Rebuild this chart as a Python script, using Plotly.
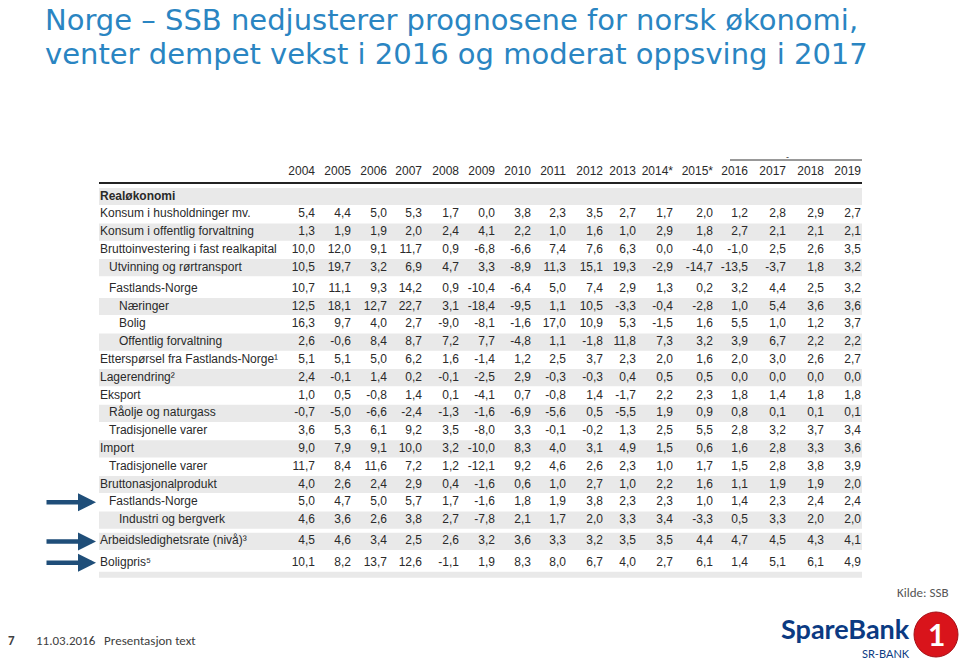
import plotly.graph_objects as go

# ---------------- data ----------------
years = ["2004", "2005", "2006", "2007", "2008", "2009", "2010", "2011",
         "2012", "2013", "2014*", "2015*", "2016", "2017", "2018", "2019"]

labels = ["Realøkonomi", "Konsum i husholdninger mv.", "Konsum i offentlig forvaltning",
          "Bruttoinvestering i fast realkapital", "Utvinning og rørtransport",
          "Fastlands-Norge", "Næringer", "Bolig", "Offentlig forvaltning",
          "Etterspørsel fra Fastlands-Norge¹", "Lagerendring²", "Eksport",
          "Råolje og naturgass", "Tradisjonelle varer", "Import", "Tradisjonelle varer",
          "Bruttonasjonalprodukt", "Fastlands-Norge", "Industri og bergverk",
          "Arbeidsledighetsrate (nivå)³", "Boligpris⁵"]
indent = [0, 0, 0, 0, 1, 1, 2, 2, 2, 0, 0, 0, 1, 1, 0, 1, 0, 1, 2, 0, 0]

konsum_husholdninger = [5.4, 4.4, 5.0, 5.3, 1.7, 0.0, 3.8, 2.3, 3.5, 2.7, 1.7, 2.0, 1.2, 2.8, 2.9, 2.7]
konsum_offentlig = [1.3, 1.9, 1.9, 2.0, 2.4, 4.1, 2.2, 1.0, 1.6, 1.0, 2.9, 1.8, 2.7, 2.1, 2.1, 2.1]
bruttoinvestering = [10.0, 12.0, 9.1, 11.7, 0.9, -6.8, -6.6, 7.4, 7.6, 6.3, 0.0, -4.0, -1.0, 2.5, 2.6, 3.5]
utvinning = [10.5, 19.7, 3.2, 6.9, 4.7, 3.3, -8.9, 11.3, 15.1, 19.3, -2.9, -14.7, -13.5, -3.7, 1.8, 3.2]
fastlands_invest = [10.7, 11.1, 9.3, 14.2, 0.9, -10.4, -6.4, 5.0, 7.4, 2.9, 1.3, 0.2, 3.2, 4.4, 2.5, 3.2]
naeringer = [12.5, 18.1, 12.7, 22.7, 3.1, -18.4, -9.5, 1.1, 10.5, -3.3, -0.4, -2.8, 1.0, 5.4, 3.6, 3.6]
bolig = [16.3, 9.7, 4.0, 2.7, -9.0, -8.1, -1.6, 17.0, 10.9, 5.3, -1.5, 1.6, 5.5, 1.0, 1.2, 3.7]
offentlig_forv = [2.6, -0.6, 8.4, 8.7, 7.2, 7.7, -4.8, 1.1, -1.8, 11.8, 7.3, 3.2, 3.9, 6.7, 2.2, 2.2]
ettersporsel = [5.1, 5.1, 5.0, 6.2, 1.6, -1.4, 1.2, 2.5, 3.7, 2.3, 2.0, 1.6, 2.0, 3.0, 2.6, 2.7]
lagerendring = [2.4, -0.1, 1.4, 0.2, -0.1, -2.5, 2.9, -0.3, -0.3, 0.4, 0.5, 0.5, 0.0, 0.0, 0.0, 0.0]
eksport = [1.0, 0.5, -0.8, 1.4, 0.1, -4.1, 0.7, -0.8, 1.4, -1.7, 2.2, 2.3, 1.8, 1.4, 1.8, 1.8]
raolje = [-0.7, -5.0, -6.6, -2.4, -1.3, -1.6, -6.9, -5.6, 0.5, -5.5, 1.9, 0.9, 0.8, 0.1, 0.1, 0.1]
trad_eksport = [3.6, 5.3, 6.1, 9.2, 3.5, -8.0, 3.3, -0.1, -0.2, 1.3, 2.5, 5.5, 2.8, 3.2, 3.7, 3.4]
importen = [9.0, 7.9, 9.1, 10.0, 3.2, -10.0, 8.3, 4.0, 3.1, 4.9, 1.5, 0.6, 1.6, 2.8, 3.3, 3.6]
trad_import = [11.7, 8.4, 11.6, 7.2, 1.2, -12.1, 9.2, 4.6, 2.6, 2.3, 1.0, 1.7, 1.5, 2.8, 3.8, 3.9]
bnp = [4.0, 2.6, 2.4, 2.9, 0.4, -1.6, 0.6, 1.0, 2.7, 1.0, 2.2, 1.6, 1.1, 1.9, 1.9, 2.0]
bnp_fastlands = [5.0, 4.7, 5.0, 5.7, 1.7, -1.6, 1.8, 1.9, 3.8, 2.3, 2.3, 1.0, 1.4, 2.3, 2.4, 2.4]
industri = [4.6, 3.6, 2.6, 3.8, 2.7, -7.8, 2.1, 1.7, 2.0, 3.3, 3.4, -3.3, 0.5, 3.3, 2.0, 2.0]
arbeidsledighet = [4.5, 4.6, 3.4, 2.5, 2.6, 3.2, 3.6, 3.3, 3.2, 3.5, 3.5, 4.4, 4.7, 4.5, 4.3, 4.1]
boligpris = [10.1, 8.2, 13.7, 12.6, -1.1, 1.9, 8.3, 8.0, 6.7, 4.0, 2.7, 6.1, 1.4, 5.1, 6.1, 4.9]

value_rows = [None, konsum_husholdninger, konsum_offentlig, bruttoinvestering, utvinning,
              fastlands_invest, naeringer, bolig, offentlig_forv, ettersporsel, lagerendring,
              eksport, raolje, trad_eksport, importen, trad_import, bnp, bnp_fastlands,
              industri, arbeidsledighet, boligpris]
arrow_rows = [17, 19, 20]

title_lines = ["Norge – SSB nedjusterer prognosene for norsk økonomi,",
               "venter dempet vekst i 2016 og moderat oppsving i 2017"]

# ---------------- layout constants ----------------
W, H = 960, 662
TABLE_FONT = "Liberation Sans Narrow, Arial Narrow, sans-serif"
TITLE_FONT = "DejaVu Sans, sans-serif"
FOOT_FONT = "Carlito, Lato, sans-serif"
TXT = "#2a2a2a"
STRIPE = "#e9e9e9"
col_right = [315, 351, 387, 422, 459, 495, 531, 566, 603, 636, 673, 713, 748, 786, 824, 861]
indent_x = [100, 109, 119]
tab_x0, tab_x1 = 99, 862
header_y = 172

row_y = []
y = 196.5
extra = {5: 3.2, 19: 3.5, 20: 3.5}
for i in range(len(labels)):
    if i > 0:
        y += 17.8 + extra.get(i, 0)
    row_y.append(y)


def fmt(v):
    return f"{v:.1f}".replace(".", ",")


fig = go.Figure()

# stripes
shapes = []
gray_rows = [0, 2, 4, 6, 8, 10, 12, 14, 16, 18, 19]
for i in gray_rows:
    shapes.append(dict(type="rect", xref="x", yref="y", x0=tab_x0, x1=tab_x1,
                       y0=row_y[i] - 8.6, y1=row_y[i] + 8.6, fillcolor=STRIPE,
                       line=dict(width=0), layer="below"))
shapes.append(dict(type="rect", xref="x", yref="y", x0=tab_x0, x1=tab_x1,
                   y0=row_y[-1] + 9, y1=row_y[-1] + 15, fillcolor=STRIPE,
                   line=dict(width=0), layer="below"))
# header rules
shapes.append(dict(type="line", xref="x", yref="y", x0=tab_x0, x1=tab_x1, y0=183, y1=183,
                   line=dict(color="#222222", width=2)))
shapes.append(dict(type="line", xref="x", yref="y", x0=730, x1=tab_x1, y0=160, y1=160,
                   line=dict(color="#333333", width=1)))
# logo circle
shapes.append(dict(type="circle", xref="x", yref="y", x0=914, x1=958, y0=612, y1=657,
                   fillcolor="#d9141b", line=dict(color="#a50e14", width=1)))

# header years
fig.add_trace(go.Scatter(x=col_right, y=[header_y] * len(years), mode="text", text=years,
                         textposition="middle left",
                         textfont=dict(family=TABLE_FONT, size=12, color=TXT),
                         hoverinfo="skip"))

# row labels
lab_text = [("<b>%s</b>" % l) if i == 0 else l for i, l in enumerate(labels)]
fig.add_trace(go.Scatter(x=[indent_x[k] for k in indent], y=row_y, mode="text", text=lab_text,
                         textposition="middle right",
                         textfont=dict(family=TABLE_FONT, size=12, color=TXT),
                         hoverinfo="skip"))

# value columns
for j, yr in enumerate(years):
    xs, ys, ts = [], [], []
    for i, vals in enumerate(value_rows):
        if vals is None:
            continue
        xs.append(col_right[j])
        ys.append(row_y[i])
        ts.append(fmt(vals[j]))
    fig.add_trace(go.Scatter(x=xs, y=ys, mode="text", text=ts, name=yr,
                             textposition="middle left",
                             textfont=dict(family=TABLE_FONT, size=12, color=TXT),
                             hoverinfo="skip"))

annotations = []
# arrows
for r in arrow_rows:
    annotations.append(dict(x=96, y=row_y[r], ax=45, ay=row_y[r], xref="x", yref="y",
                            axref="x", ayref="y", showarrow=True, arrowhead=2,
                            arrowsize=0.8, arrowwidth=4.5, arrowcolor="#1f4e79", text=""))
# title (two lines)
for line, ty in zip(title_lines, [19.5, 54]):
    annotations.append(dict(x=44, y=ty, xref="x", yref="y", xanchor="left", yanchor="middle",
                            showarrow=False, align="left", text=line, borderpad=0,
                            font=dict(family=TITLE_FONT, size=29, color="#2a85c2")))
annotations.append(dict(x=787, y=157, xref="x", yref="y", text="-", showarrow=False,
                        font=dict(family=TABLE_FONT, size=9, color="#333")))
# source + footer
annotations.append(dict(x=950, y=592, xref="x", yref="y", xanchor="right", text="Kilde: SSB",
                        showarrow=False, font=dict(family=FOOT_FONT, size=13, color="#555555")))
annotations.append(dict(x=6, y=640, xref="x", yref="y", xanchor="left", text="<b>7</b>",
                        showarrow=False, font=dict(family=FOOT_FONT, size=13, color="#404040")))
annotations.append(dict(x=34, y=640, xref="x", yref="y", xanchor="left",
                        text="11.03.2016   Presentasjon text",
                        showarrow=False, font=dict(family=FOOT_FONT, size=13, color="#404040")))
# logo text
annotations.append(dict(x=912, y=628, xref="x", yref="y", xanchor="right", yanchor="middle",
                        text="<b>SpareBank</b>", showarrow=False,
                        font=dict(family="Lato, sans-serif", size=27, color="#0b3a82")))
annotations.append(dict(x=912, y=653, xref="x", yref="y", xanchor="right", yanchor="middle",
                        text="SR-BANK", showarrow=False,
                        font=dict(family="Lato, sans-serif", size=11, color="#0b3a82")))
annotations.append(dict(x=936, y=634, xref="x", yref="y", text="<b>1</b>",
                        showarrow=False, font=dict(family="Lato, sans-serif", size=30, color="white")))

fig.update_layout(
    width=W, height=H, margin=dict(l=0, r=0, t=0, b=0),
    paper_bgcolor="white", plot_bgcolor="white", showlegend=False,
    xaxis=dict(range=[0, W], visible=False, fixedrange=True),
    yaxis=dict(range=[H, 0], visible=False, fixedrange=True),
    shapes=shapes, annotations=annotations,
)

fig.write_html("out.html", config={"displayModeBar": False},
               post_script="document.body.style.margin='0';")
